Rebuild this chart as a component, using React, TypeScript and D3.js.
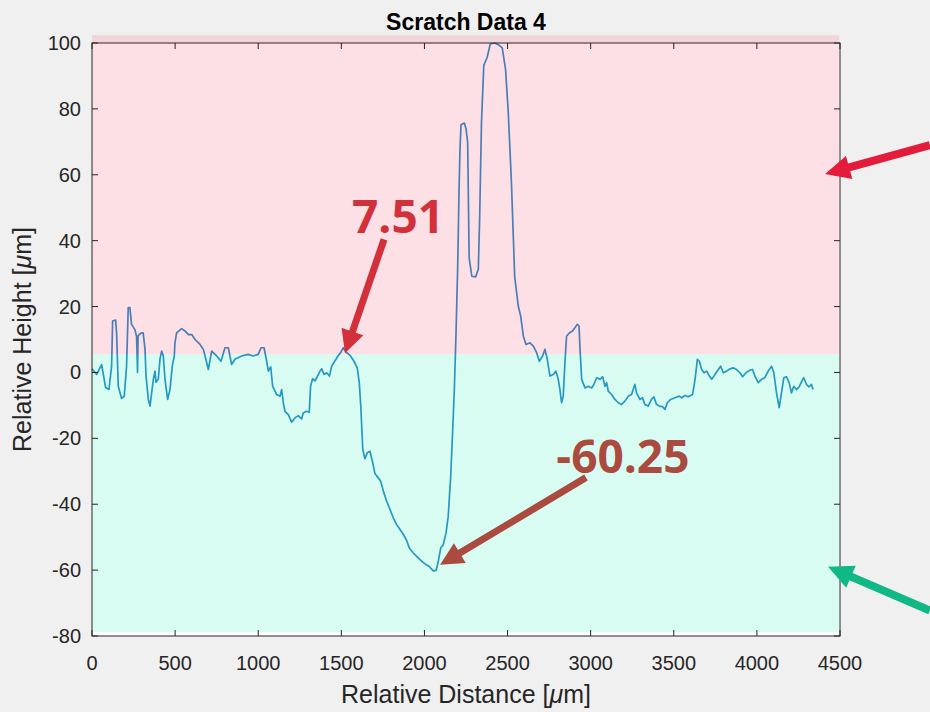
import React from 'react';
import * as d3 from 'd3';

// scratch profile (distance in µm, height in µm)
const distance = [
  0, 28, 58, 82, 102, 118, 124, 142, 148, 158, 178, 194, 208, 218, 228, 238, 258, 268, 274, 277,
  284, 298, 308, 319, 325, 339, 349, 369, 379, 385, 399, 409, 419, 429, 439, 455, 469, 483, 495, 499,
  509, 539, 559, 580, 600, 620, 650, 670, 680, 700, 720, 750, 776, 800, 820, 840, 860, 900, 940, 970,
  1000, 1017, 1035, 1051, 1061, 1075, 1087, 1111, 1131, 1141, 1151, 1161, 1181, 1201, 1221, 1241, 1261, 1271, 1291, 1307,
  1315, 1327, 1341, 1355, 1372, 1382, 1396, 1412, 1428, 1442, 1456, 1468, 1482, 1496, 1512, 1528, 1552, 1576, 1596, 1608,
  1617, 1629, 1642, 1656, 1672, 1689, 1702, 1722, 1737, 1753, 1773, 1793, 1813, 1833, 1853, 1873, 1893, 1909, 1933, 1953,
  1973, 2003, 2029, 2053, 2070, 2083, 2098, 2113, 2130, 2143, 2158, 2170, 2180, 2190, 2200, 2208, 2214, 2220, 2240, 2250,
  2260, 2269, 2285, 2308, 2324, 2332, 2343, 2357, 2377, 2396, 2421, 2445, 2468, 2488, 2504, 2523, 2543, 2565, 2579, 2595,
  2611, 2635, 2655, 2675, 2691, 2711, 2725, 2739, 2755, 2775, 2791, 2805, 2815, 2825, 2835, 2845, 2855, 2871, 2891, 2905,
  2920, 2930, 2936, 2946, 2966, 2986, 3006, 3020, 3036, 3056, 3072, 3086, 3096, 3106, 3126, 3146, 3166, 3186, 3206, 3226,
  3246, 3266, 3276, 3296, 3312, 3326, 3346, 3366, 3380, 3396, 3412, 3432, 3447, 3461, 3481, 3507, 3533, 3547, 3567, 3587,
  3613, 3628, 3642, 3654, 3668, 3682, 3698, 3714, 3728, 3748, 3768, 3782, 3798, 3818, 3838, 3858, 3878, 3898, 3914, 3934,
  3958, 3974, 3988, 4008, 4028, 4048, 4068, 4088, 4102, 4118, 4134, 4148, 4162, 4178, 4194, 4208, 4222, 4238, 4254, 4268,
  4282, 4298, 4314, 4328, 4338,
];
const height = [
  1.1, -0.6, 2.4, -4.6, -5.2, 1.9, 15.6, 15.9, 12, -4.2, -7.9, -7.2, 1.9, 19.7, 19.7, 14.6, 13, 11, 0, 11,
  11.5, 12, 12, 7, -1.1, -8.2, -10.2, -2.1, 0.4, -3, -2, 4, 6.5, 5, -2, -8.2, -5.2, 1.9, 5, 9,
  12, 13.3, 12.6, 11.5, 11.5, 10, 8.5, 7, 5, 0.9, 6.5, 5, 3.4, 7.5, 7.5, 2.4, 4, 5, 5.5, 5,
  5.5, 7.5, 7.5, 3.4, 0.4, 1.7, -4.2, -6.7, -7.2, -5.2, -9.2, -11.8, -12.8, -15.1, -13.8, -13.1, -14.1, -12.3, -11.8, -12.1,
  -4.2, -1.9, -2.6, -1.3, 0.4, 1.1, -0.6, -0.1, -1.1, 1.9, 3.1, 4, 5.2, 6, 7.51, 6.2, 5.2, 3.4, 1.4, -3.1,
  -10.2, -23.4, -26.2, -24.4, -23.9, -27.4, -30.7, -32, -33, -36.1, -39.1, -41.6, -44.2, -46.2, -47.7, -49.2, -51, -53.3, -54.8, -55.8,
  -56.8, -58.1, -58.9, -60.25, -60.1, -57.4, -53.3, -52.3, -48.7, -43.7, -31.5, -17.3, -5, 12, 32, 55, 68, 75.2, 75.7, 74,
  69.9, 34.8, 29.2, 29, 31.3, 46.5, 75.7, 93.2, 95.6, 99.7, 100, 99.5, 98.5, 92, 79.2, 58.1, 29, 20, 17.1, 11,
  8.5, 9, 8, 6, 3.4, 5, 7, 4, -1.1, -0.6, 0.4, -2.1, -5.2, -9.2, -7.2, 2.9, 11, 12, 12.6, 13.6,
  14.6, 14.1, 7, -2.1, -4.7, -4.2, -4.7, -3.6, -1.6, -2.1, -1.3, -4.2, -3.1, -5.7, -6.7, -8.2, -9.2, -9.7, -8.7, -7.2,
  -6.7, -3.6, -6.2, -8.2, -7.7, -9.7, -10.2, -8.2, -7.4, -9.7, -10.2, -10.4, -11.2, -9.2, -8.2, -7.7, -7.2, -7.7, -7, -7.4,
  -6.7, -2.1, 4, 3.4, 0.9, -0.1, 0.4, -1.1, -2.1, -0.6, 0.9, 1.9, -0.1, 0.4, 1.1, 1.4, 0.9, -0.1, -1.3, -0.1,
  0.7, 0.9, -1.1, -3.1, -2.1, -1.6, 0.4, 1.9, -0.1, -6.2, -10.7, -6.2, -1.6, -1.3, -3.1, -6.2, -4.2, -5.2, -4.4, -2.9,
  -1.6, -3.6, -4.4, -3.6, -5.2,
];

const xTicks = [0, 500, 1000, 1500, 2000, 2500, 3000, 3500, 4000, 4500];
const yTicks = [-80, -60, -40, -20, 0, 20, 40, 60, 80, 100];

// shaded zones
const bandLow = [5.5, -78.8];
const bandHigh = [102.4, 5.5];
const bandColors = ['rgb(248,152,168)', 'rgb(125,245,208)'];

// callouts: label, tail, tip, label anchor (data units)
const calloutLabels = ['7.51', '-60.25'];
const calloutColors = ['#d2303b', '#ab4a3f'];
const calloutTail = [[1757, 40.4], [2972, -31.9]];
const calloutTip = [[1522, 5.8], [2094, -58.4]];
const calloutText = [[1841, 42.2], [3194, -30.4]];

// arrows pointing at the zones from outside the axes
const sideColors = ['#e41b3b', '#10b885'];
const sideTail = [[5041, 69], [5041, -72.3]];
const sideTip = [[4410, 60.2], [4428, -59]];

const W = 930;
const H = 712;
const left = 92;
const right = 840;
const top = 43;
const bottom = 636;

const font = '"Liberation Sans", Arial, Helvetica, sans-serif';

function arrowPoints(x1: number, y1: number, x2: number, y2: number, shaft: number, headLen: number, headW: number) {
  const len = Math.hypot(x2 - x1, y2 - y1);
  const ux = (x2 - x1) / len;
  const uy = (y2 - y1) / len;
  const nx = -uy;
  const ny = ux;
  const bx = x2 - ux * headLen;
  const by = y2 - uy * headLen;
  const pts = [
    [x1 + nx * shaft / 2, y1 + ny * shaft / 2],
    [bx + nx * shaft / 2, by + ny * shaft / 2],
    [bx + nx * headW / 2, by + ny * headW / 2],
    [x2, y2],
    [bx - nx * headW / 2, by - ny * headW / 2],
    [bx - nx * shaft / 2, by - ny * shaft / 2],
    [x1 - nx * shaft / 2, y1 - ny * shaft / 2],
  ];
  return pts.map((p) => p.join(',')).join(' ');
}

const App: React.FC = () => {
  const x = d3.scaleLinear().domain([0, 4500]).range([left, right]);
  const y = d3.scaleLinear().domain([-80, 100]).range([bottom, top]);

  const line = d3
    .line<number>()
    .x((i) => x(distance[i]))
    .y((i) => y(height[i]));
  const path = line(d3.range(distance.length)) || '';

  return (
    <svg width={W} height={H} style={{ position: 'absolute', left: 0, top: 0 }}>
      <rect x={0} y={0} width={W} height={H} fill="#f0f0f0" />
      <rect x={left} y={top} width={right - left} height={bottom - top} fill="#ffffff" />

      <path d={path} fill="none" stroke="#0072bd" strokeWidth={1.7} strokeLinejoin="round" />

      {bandLow.map((lo, i) => (
        <rect
          key={i}
          x={x(0)}
          y={y(bandHigh[i])}
          width={x(4495) - x(0)}
          height={y(lo) - y(bandHigh[i])}
          fill={bandColors[i]}
          fillOpacity={0.3}
        />
      ))}

      {/* axes box and inward ticks */}
      <g stroke="#262626" strokeWidth={1}>
        <rect x={left} y={top} width={right - left} height={bottom - top} fill="none" />
        {xTicks.map((t) => (
          <g key={t}>
            <line x1={x(t)} x2={x(t)} y1={bottom} y2={bottom - 6} />
            <line x1={x(t)} x2={x(t)} y1={top} y2={top + 6} />
          </g>
        ))}
        {yTicks.map((t) => (
          <g key={t}>
            <line x1={left} x2={left + 6} y1={y(t)} y2={y(t)} />
            <line x1={right} x2={right - 6} y1={y(t)} y2={y(t)} />
          </g>
        ))}
      </g>

      <g fontFamily={font} fontSize={20} fill="#262626">
        {xTicks.map((t) => (
          <text key={t} x={x(t)} y={670} textAnchor="middle">
            {t}
          </text>
        ))}
        {yTicks.map((t) => (
          <text key={t} x={left - 11} y={y(t)} textAnchor="end" dominantBaseline="central">
            {t}
          </text>
        ))}
      </g>

      <text x={(left + right) / 2} y={30} textAnchor="middle" fontFamily={font} fontSize={23} fontWeight="bold" fill="#000">
        Scratch Data 4
      </text>
      <text x={(left + right) / 2} y={703} textAnchor="middle" fontFamily={font} fontSize={25} fill="#262626">
        Relative Distance [<tspan fontStyle="italic">μ</tspan>m]
      </text>
      <text
        transform={`translate(31,${(top + bottom) / 2}) rotate(-90)`}
        textAnchor="middle"
        fontFamily={font}
        fontSize={25}
        fill="#262626"
      >
        Relative Height [<tspan fontStyle="italic">μ</tspan>m]
      </text>

      {calloutLabels.map((lab, i) => (
        <g key={lab} fill={calloutColors[i]}>
          <polygon
            points={arrowPoints(
              x(calloutTail[i][0]),
              y(calloutTail[i][1]),
              x(calloutTip[i][0]),
              y(calloutTip[i][1]),
              7,
              23,
              23
            )}
          />
          <text
            x={x(calloutText[i][0])}
            y={y(calloutText[i][1])}
            textAnchor="middle"
            fontFamily='"Open Sans", "Noto Sans", sans-serif'
            fontWeight="bold"
            fontSize={46}
          >
            {lab}
          </text>
        </g>
      ))}

      {sideColors.map((c, i) => (
        <polygon
          key={c}
          fill={c}
          points={arrowPoints(x(sideTail[i][0]), y(sideTail[i][1]), x(sideTip[i][0]), y(sideTip[i][1]), 8, 25, 24)}
        />
      ))}
    </svg>
  );
};

export default App;
